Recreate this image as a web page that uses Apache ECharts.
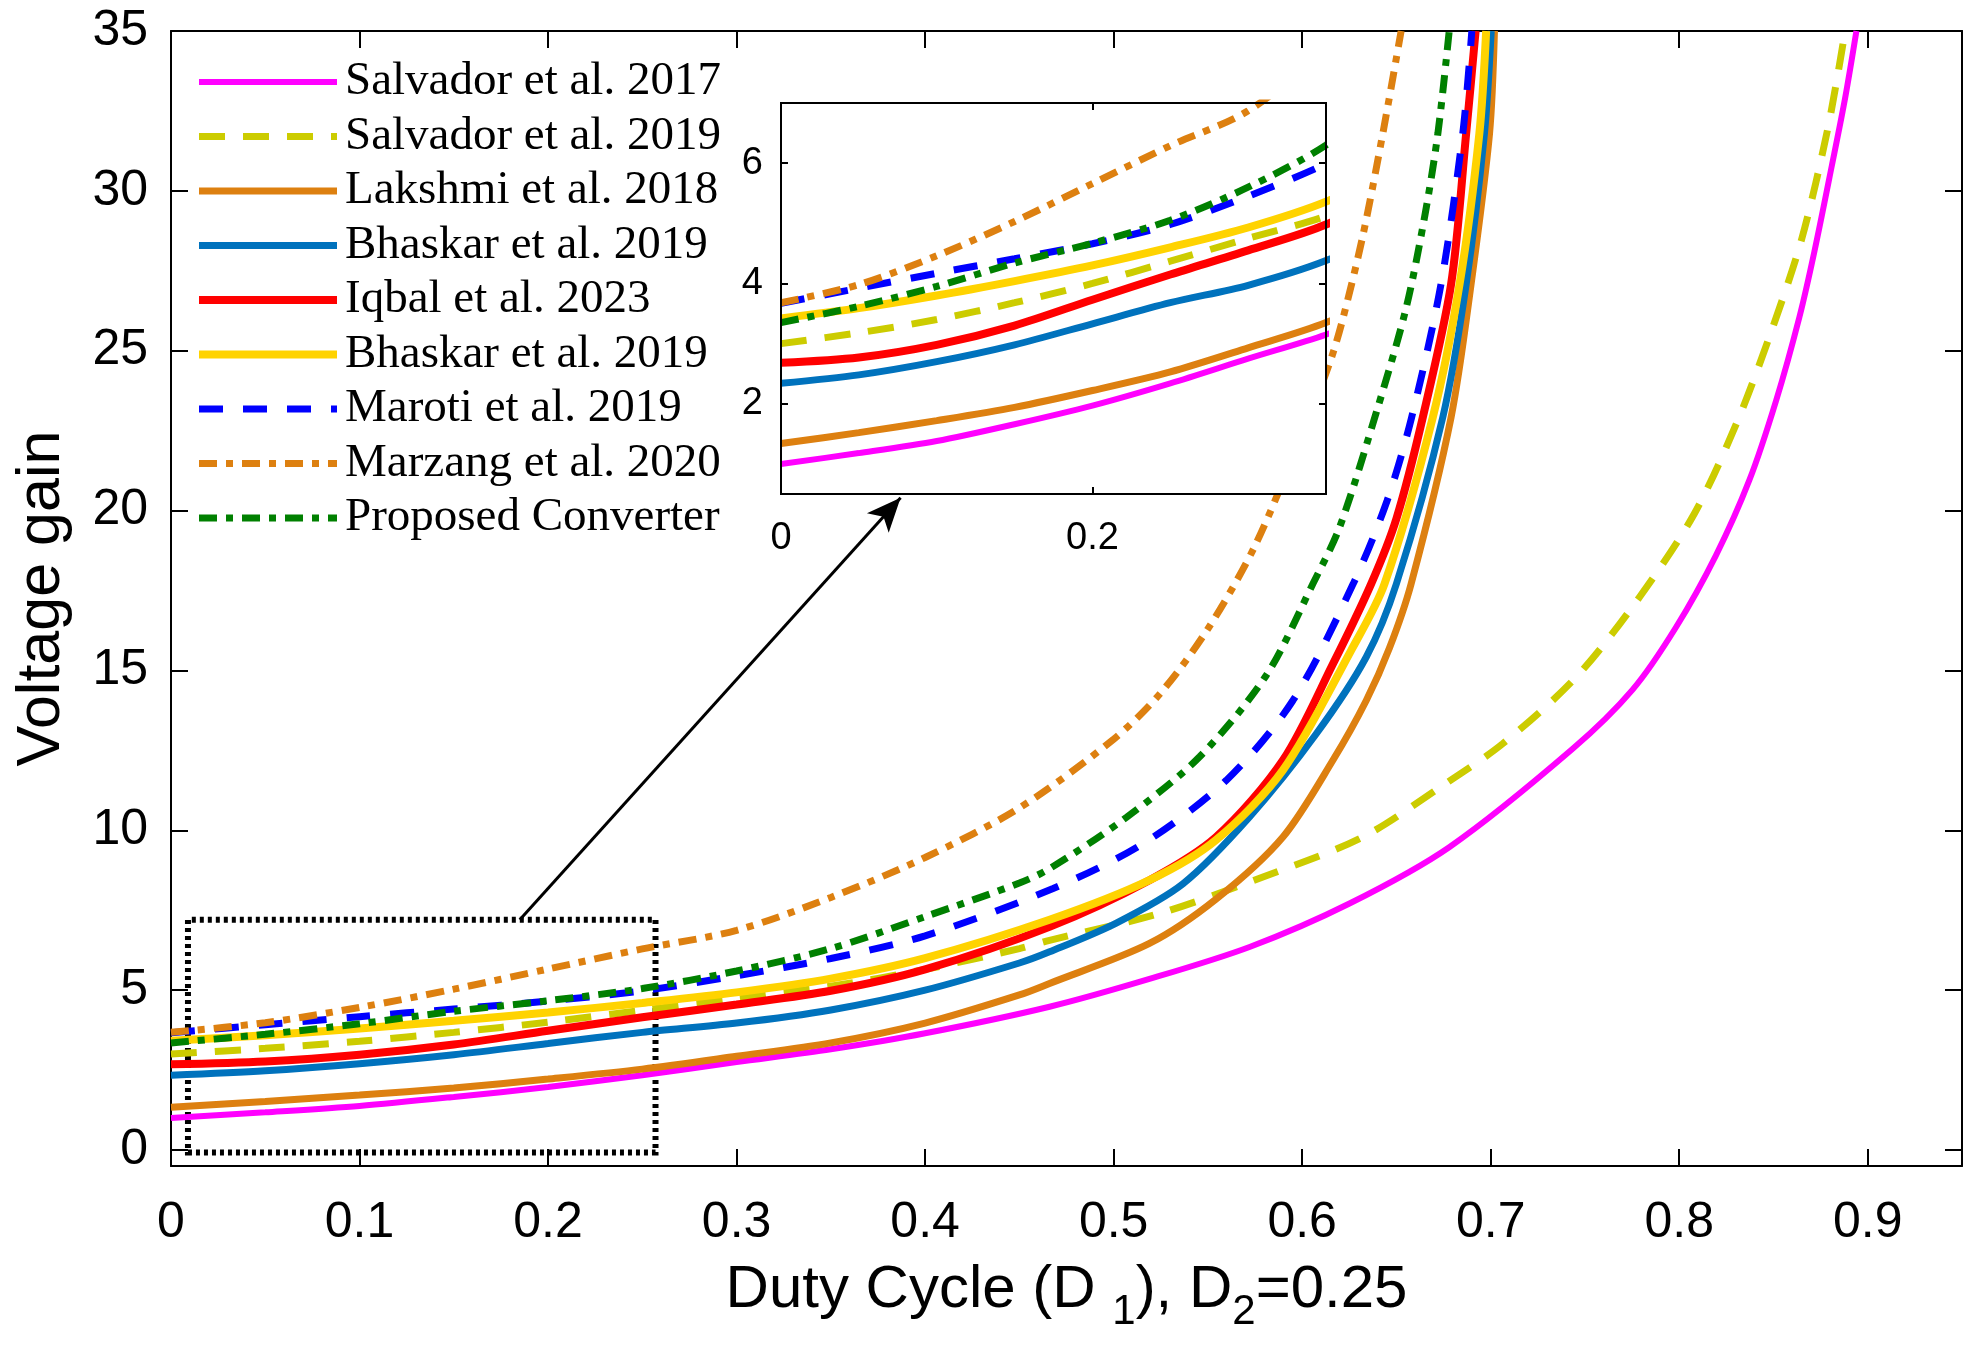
<!DOCTYPE html>
<html><head><meta charset="utf-8">
<script src="https://cdn.jsdelivr.net/npm/echarts@6/dist/echarts.min.js"></script>
<style>html,body{margin:0;padding:0;background:#fff}#c{width:1987px;height:1351px}</style>
</head><body><div id="c"></div>
<script>
// ---------- data ----------
const seriesNames = ['Salvador et al. 2017','Salvador et al. 2019','Lakshmi et al. 2018','Bhaskar et al. 2019','Iqbal et al. 2023','Bhaskar et al. 2019\u200B','Maroti et al. 2019','Marzang et al. 2020','Proposed Converter'];

const dSalv17 = [0,0.05,0.1,0.15,0.2,0.25,0.3,0.35,0.4,0.466,0.519,0.5721,0.6251,0.6782,0.7435,0.7753,0.7983,0.8195,0.8372,0.8514,0.8637,0.8717,0.881,0.888,0.894];
const gSalv17 = [1.0,1.18,1.38,1.66,1.97,2.34,2.75,3.15,3.65,4.48,5.35,6.35,7.71,9.48,12.55,14.4,16.35,18.6,20.95,23.44,26.04,28.1,30.8,32.9,35];

const dSalv19 = [0,0.05,0.1,0.15,0.2,0.25,0.3,0.35,0.4,0.45,0.466,0.5244,0.5792,0.6322,0.676,0.7064,0.7453,0.7789,0.808,0.831,0.8496,0.865,0.879,0.888];
const gSalv19 = [3.0,3.18,3.4,3.68,4.0,4.37,4.75,5.12,5.65,6.3,6.56,7.4,8.54,9.79,11.46,12.71,14.79,17.29,19.9,22.81,25.73,28.5,32.0,35];

const dLak18 = [0,0.05,0.1,0.15,0.2,0.25,0.3,0.35,0.4,0.45,0.466,0.519,0.5544,0.5898,0.6163,0.634,0.6463,0.6578,0.679,0.6896,0.6994,0.702];
const gLak18 = [1.34,1.52,1.72,1.94,2.22,2.53,2.93,3.35,3.97,4.85,5.21,6.46,7.85,9.79,12.19,14.06,15.7,17.71,22.92,27.08,31.8,35];

const dBhA19 = [0,0.05,0.1,0.15,0.2,0.25,0.3,0.35,0.4,0.45,0.466,0.5014,0.5368,0.5721,0.6075,0.634,0.65,0.6746,0.687,0.6967,0.7003];
const gBhA19 = [2.34,2.48,2.7,2.98,3.33,3.68,3.97,4.38,5.0,5.85,6.2,7.1,8.33,10.42,13.02,15.42,17.71,22.92,27.08,31.8,35];

const dIqb23 = [0,0.05,0.1,0.15,0.2,0.25,0.3,0.35,0.4,0.466,0.519,0.5544,0.5898,0.6163,0.6366,0.65,0.664,0.679,0.687,0.692];
const gIqb23 = [2.68,2.77,2.98,3.3,3.73,4.15,4.55,4.98,5.65,6.98,8.44,9.79,12.19,15.2,17.71,19.75,22.92,27.08,31.8,35];

const dBhB19 = [0,0.05,0.1,0.15,0.2,0.25,0.3,0.35,0.4,0.466,0.519,0.5544,0.5898,0.626,0.6437,0.6693,0.6835,0.694,0.6976];
const gBhB19 = [3.42,3.59,3.8,4.04,4.3,4.6,4.93,5.36,6.0,7.2,8.44,9.7,11.88,15.63,17.71,22.92,27.08,31.8,35];

const dMar19 = [0,0.05,0.1,0.15,0.2,0.25,0.3,0.35,0.4,0.4679,0.5155,0.5597,0.5951,0.627,0.645,0.658,0.6737,0.6852,0.69];
const gMar19 = [3.67,3.92,4.17,4.41,4.66,4.98,5.45,5.99,6.7,8.18,9.58,11.56,14.06,17.7,20.3,22.9,27.1,31.8,35];

const dMarz20 = [0,0.05,0.1,0.15,0.2,0.25,0.3,0.35,0.4,0.45,0.5,0.525,0.55,0.575,0.6,0.6145,0.6216,0.6322,0.6428,0.6525];
const gMarz20 = [3.68,3.98,4.46,5.03,5.66,6.29,6.87,7.9,9.15,10.7,12.85,14.3,16.3,18.9,22.4,24.6,26.0,28.6,31.8,35];

const dProp = [0,0.05,0.1,0.15,0.2,0.25,0.3,0.35,0.4,0.45,0.466,0.5067,0.5456,0.581,0.6057,0.62,0.64,0.655,0.665,0.672,0.678];
const gProp = [3.35,3.62,3.95,4.34,4.67,5.05,5.6,6.3,7.3,8.35,8.8,10.4,12.3,14.85,17.71,19.5,23.2,26.3,29.2,31.8,35];

const mainXTicks = [0,0.1,0.2,0.3,0.4,0.5,0.6,0.7,0.8,0.9];
const mainYTicks = [0,5,10,15,20,25,30,35];
const insetXTicks = [0,0.2];
const insetYTicks = [2,4,6];

// zoom box & arrow (data coordinates)
const zoomBox = [[0.009,-0.08],[0.257,7.2]];
const arrowFromTo = [[0.185,7.2],[0.387,20.4]];

// ---------- styles ----------
const xsArr = [dSalv17,dSalv19,dLak18,dBhA19,dIqb23,dBhB19,dMar19,dMarz20,dProp];
const ysArr = [gSalv17,gSalv19,gLak18,gBhA19,gIqb23,gBhB19,gMar19,gMarz20,gProp];
const styles = [
  {color:'#FF00FF', width:6, type:'solid'},
  {color:'#CCCC00', width:7, type:[26,18]},
  {color:'#DD8010', width:7, type:'solid'},
  {color:'#0072BD', width:7, type:'solid'},
  {color:'#FF0000', width:8, type:'solid'},
  {color:'#FFD300', width:8, type:'solid'},
  {color:'#0000FF', width:7, type:[24,20]},
  {color:'#DD8010', width:7, type:[18,9,7,9]},
  {color:'#008000', width:7, type:[18,9,7,9]}
];
const SANS = 'Liberation Sans, Arial, Helvetica, sans-serif';
const SERIF = 'Liberation Serif, Times New Roman, serif';

function pairs(xs, ys){ return xs.map((x,i)=>[x, ys[i]]); }

function mkAxis(opts){
  const base = {
    type:'value', splitLine:{show:false},
    axisLine:{show:true, onZero:false, lineStyle:{color:'#000', width:2}},
    axisTick:{show:true, inside:true, length:opts.tickLen, customValues:opts.ticks, lineStyle:{color:'#000', width:2}},
    axisLabel:{show:opts.labels, customValues:opts.ticks, margin:opts.margin, fontSize:opts.fontSize, color:'#000', fontFamily:SANS}
  };
  return Object.assign(base, opts.extra);
}

const series = [];
seriesNames.forEach((name,i)=>{
  const st = styles[i];
  const s = {
    name, type:'line', xAxisIndex:0, yAxisIndex:0, data:pairs(xsArr[i], ysArr[i]),
    showSymbol:false, symbol:'none', smooth:0.3, clip:true, z:2,
    lineStyle:{color:st.color, width:st.width, type:st.type, cap:'butt'}, itemStyle:{color:st.color}
  };
  if (i === 0){
    s.markArea = {silent:true, itemStyle:{color:'rgba(0,0,0,0)', borderColor:'#000', borderWidth:6, borderType:[4,4]},
      data:[[{coord:zoomBox[0]},{coord:zoomBox[1]}]]};
    s.markLine = {silent:true, symbol:['none','arrow'], symbolSize:[22,34], label:{show:false},
      lineStyle:{color:'#000', width:3, type:'solid'},
      data:[[{coord:arrowFromTo[0]},{coord:arrowFromTo[1]}]]};
  }
  series.push(s);
});
seriesNames.forEach((name,i)=>{
  const st = styles[i];
  series.push({
    name, type:'line', xAxisIndex:2, yAxisIndex:2, data:pairs(xsArr[i], ysArr[i]),
    showSymbol:false, symbol:'none', smooth:0.3, clip:true, z:5,
    lineStyle:{color:st.color, width:st.width, type:st.type, cap:'butt'}, itemStyle:{color:st.color}
  });
});

const option = {
  animation:false,
  backgroundColor:'#fff',
  grid:[
    {left:171, right:25, top:31, bottom:185, show:false},
    {left:781, right:661, top:103, bottom:857, show:true, backgroundColor:'#fff', borderColor:'#000', borderWidth:2, z:3}
  ],
  xAxis:[
    mkAxis({ticks:mainXTicks, tickLen:17, labels:true, margin:32, fontSize:50, extra:{gridIndex:0, position:'bottom', min:0, max:0.95,
      name:'{a|Duty Cycle (D }{s|1}{a|), D}{s|2}{a|=0.25}', nameLocation:'middle', nameGap:94,
      nameTextStyle:{fontFamily:SANS, color:'#000', rich:{
        a:{fontFamily:SANS, fontSize:60, lineHeight:64, verticalAlign:'top', color:'#000'},
        s:{fontFamily:SANS, fontSize:42, lineHeight:42, padding:[31,0,0,0], verticalAlign:'top', color:'#000'}}}}}),
    mkAxis({ticks:mainXTicks, tickLen:17, labels:false, margin:8, fontSize:50, extra:{gridIndex:0, position:'top', min:0, max:0.95}}),
    mkAxis({ticks:insetXTicks, tickLen:7, labels:true, margin:26, fontSize:38, extra:{gridIndex:1, position:'bottom', min:0, max:0.35, z:6}}),
    mkAxis({ticks:insetXTicks, tickLen:7, labels:false, margin:8, fontSize:38, extra:{gridIndex:1, position:'top', min:0, max:0.35, z:6}})
  ],
  yAxis:[
    mkAxis({ticks:mainYTicks, tickLen:17, labels:true, margin:23, fontSize:50, extra:{gridIndex:0, position:'left', min:-0.5, max:35,
      name:'Voltage gain', nameLocation:'middle', nameGap:98,
      nameTextStyle:{fontFamily:SANS, fontSize:61, color:'#000'}}}),
    mkAxis({ticks:mainYTicks, tickLen:17, labels:false, margin:8, fontSize:50, extra:{gridIndex:0, position:'right', min:-0.5, max:35}}),
    mkAxis({ticks:insetYTicks, tickLen:7, labels:true, margin:18, fontSize:38, extra:{gridIndex:1, position:'left', min:0.5, max:7, z:6}}),
    mkAxis({ticks:insetYTicks, tickLen:7, labels:false, margin:8, fontSize:38, extra:{gridIndex:1, position:'right', min:0.5, max:7, z:6}})
  ],
  legend:{
    data:seriesNames, orient:'vertical', left:195, top:58, padding:0,
    itemWidth:138, itemHeight:14, itemGap:6.5, selectedMode:false,
    itemStyle:{opacity:0, borderWidth:0},
    lineStyle:{width:'inherit', type:'inherit'},
    textStyle:{fontFamily:SERIF, fontSize:47, lineHeight:48, color:'#000', padding:[0,0,0,3]}
  },
  series
};

const chart = echarts.init(document.getElementById('c'), null, {renderer:'canvas'});
chart.setOption(option);
</script>
</body></html>
